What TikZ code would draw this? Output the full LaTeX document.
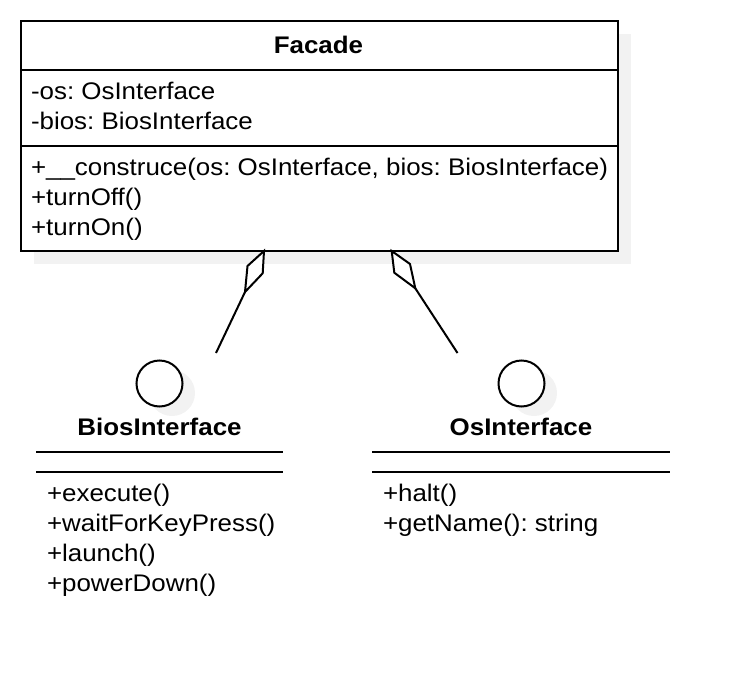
\documentclass[tikz,border=0pt]{standalone}
\usepackage{fontspec}
\setmainfont{Liberation Sans}[FakeStretch=1.08]
\frenchspacing
\begin{document}
\begin{tikzpicture}[x=1pt,y=-1pt,line width=2pt,
  txt/.style={anchor=base west,inner sep=0pt,font=\fontsize{24}{28}\selectfont},
  ttl/.style={anchor=base,inner sep=0pt,font=\fontsize{24}{28}\selectfont\bfseries},
  ring/.style={circle,draw,fill=white,minimum size=46pt,inner sep=0pt},
  dia/.style={draw,fill=white,line join=miter}]
\useasboundingbox (0,0) rectangle (750,688);
% Facade shadow and box
\fill[black!5] (34,34) rectangle (631,264);
\node[draw,fill=white,minimum width=597pt,minimum height=230pt,anchor=north west,inner sep=0pt] (facade) at (20,20) {};
\draw (20,70) -- (617,70);
\draw (20,146) -- (617,146);
\node[ttl] (ftitle) at (318.5,53) {Facade};
\node[txt] (a1) at (30,99) {-os: OsInterface};
\node[txt] (a2) at (30,129) {-bios: BiosInterface};
\node[txt] (m1) at (30,175) {+\_\_construce(os: OsInterface, bios: BiosInterface)};
\node[txt] (m2) at (30,205) {+turnOff()};
\node[txt] (m3) at (30,235) {+turnOn()};
% aggregation diamonds and connectors
\draw[dia] (264,251) -- (247.5,266) -- (245,292) -- (262.7,273.3) -- cycle;
\draw[dia] (391.7,251) -- (394.3,272.7) -- (415.3,288.3) -- (410,264) -- cycle;
\coordinate (lb) at (245,292);
\coordinate (le) at (216,353);
\coordinate (rb) at (415.3,288.3);
\coordinate (re) at (457.5,353);
\draw (lb) -- (le);
\draw (rb) -- (re);
% interface circles
\fill[black!5] (172,393) circle (23pt);
\fill[black!5] (534,393) circle (23pt);
\node[ring] (bc) at (159.5,383.5) {};
\node[ring] (oc) at (521.5,383.5) {};
% BiosInterface
\node[ttl] (btitle) at (159.5,435) {BiosInterface};
\draw (36,452) -- (283,452);
\draw (36,472) -- (283,472);
\node[txt] (b1) at (46,501) {+execute()};
\node[txt] (b2) at (46,531) {+waitForKeyPress()};
\node[txt] (b3) at (46,561) {+launch()};
\node[txt] (b4) at (46,591) {+powerDown()};
% OsInterface
\node[ttl] (otitle) at (521,435) {OsInterface};
\draw (372,452) -- (670,452);
\draw (372,472) -- (670,472);
\node[txt] (o1) at (382,501) {+halt()};
\node[txt] (o2) at (382,531) {+getName(): string};
\end{tikzpicture}
\end{document}
